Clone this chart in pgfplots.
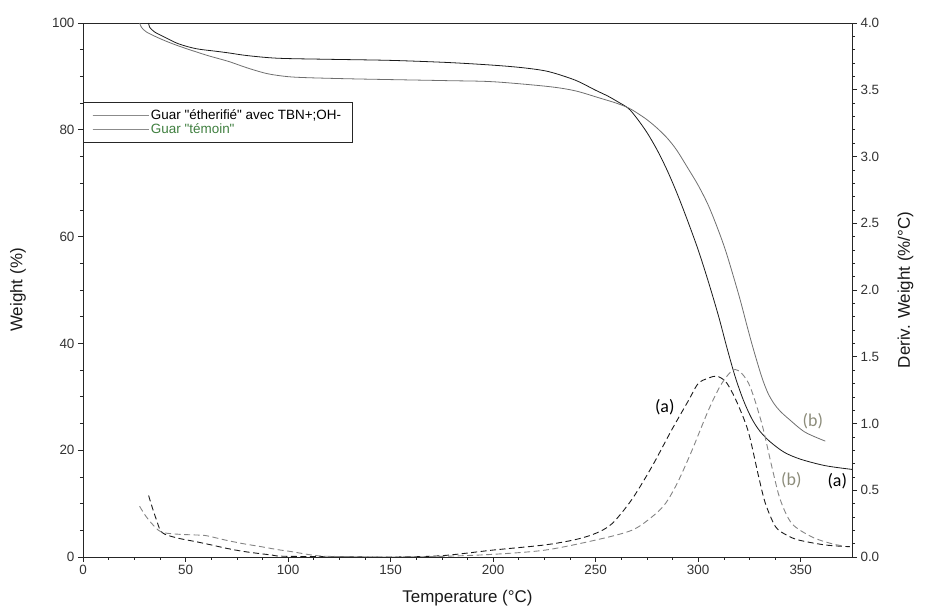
\documentclass[border=0pt]{standalone}
\usepackage{fontspec}
\setmainfont{Liberation Sans}[Ligatures=TeXOff]
\newfontfamily\carlito{Carlito}
\usepackage{pgfplots}
\pgfplotsset{compat=1.18}
\definecolor{cA}{HTML}{1A1A1A}
\definecolor{cB}{HTML}{6E6E6E}
\definecolor{cBl}{HTML}{8C8C7A}
\definecolor{cG}{HTML}{3F7F3F}
\pgfplotsset{
  common/.style={
    at={(0,0)}, anchor=south west, scale only axis, width=769bp, height=534bp,
    xmin=0, xmax=375,
    tick align=outside, major tick length=5bp, minor tick length=3bp,
    axis line style={line width=0.8pt, black!85},
    every tick/.style={black!85, line width=0.6pt},
    /pgf/number format/assume math mode=true,
    tick label style={font=\fontsize{13.5}{15}\selectfont, text=black!80},
    label style={font=\fontsize{17}{19}\selectfont, text=black!90},
  }
}
\begin{document}
\begin{tikzpicture}
\path[use as bounding box] (-83bp,-51bp) rectangle (855bp,557bp);
\begin{axis}[common,
  ymin=0, ymax=100,
  xtick={0,50,...,350}, ytick={0,20,...,100},
  minor x tick num=3, minor y tick num=3,
  xtick pos=left, ytick pos=left,
  xlabel={Temperature (°C)}, ylabel={Weight (\%)},
  xlabel style={at={(axis description cs:0.5,-0.077)}, anchor=center},
  ylabel style={at={(axis description cs:-0.0845,0.5)}, anchor=center},
  legend style={at={(0,0.852)}, anchor=north west, draw=black!85, fill=white,
    font=\fontsize{13.5}{15}\selectfont, inner xsep=9bp, inner ysep=5bp, row sep=-1bp},
  legend cell align=left,
  legend image code/.code={\path (0bp,0bp) -- (56bp,0bp); \draw[#1] (0bp,0bp) -- (50bp,0bp);},
]
\addlegendimage{cB!80, line width=0.8pt}
\addlegendentry{Guar "étherifié" avec TBN+;OH-}
\addlegendimage{cB!80, line width=0.8pt}
\addlegendentry{\textcolor{cG}{Guar "témoin"}}
% (a) solid
\addplot[cA, line width=0.8pt, smooth, forget plot] coordinates {
(32,100) (32.5,99.2) (35,98.3) (40,97.3) (46.6,96.1) (55,95.2) (65,94.7) (71,94.4)
(80,93.9) (95,93.4) (120,93.2) (150,93.0) (178,92.6) (200,92.1) (215,91.6) (227,90.9)
(240,89.3) (250,87.4) (256,86.3) (261,85.2) (266,84.0) (270,82.2) (275,79.5) (280,76.2)
(285,72.3) (290,67.8) (295,62.8) (300,57.5) (305,51.5) (310,45.0) (314,39.2) (318,33.8)
(322,29.4) (326,26.0) (330,23.6) (335,21.6) (342,19.6) (350,18.3) (362,17.1) (375,16.4)};
% (b) solid
\addplot[cB, line width=0.8pt, smooth, forget plot] coordinates {
(27.6,100) (28.5,99.2) (31,98.3) (38,97) (46.6,95.7) (60,94) (71,92.8) (80,91.6)
(90,90.5) (100,89.95) (110,89.75) (130,89.55) (150,89.4) (178,89.2) (200,89.0) (227,88.1)
(240,87.3) (251.5,86.0) (260,85.0) (266,84.1) (270,83.2) (275,81.9) (280,80.3) (285,78.4)
(289.5,76.2) (295,72.8) (300,69.6) (305,65.8) (310,61.0) (314,56.6) (320,48.8) (324,43.0)
(327,38.8) (331,33.7) (334,30.7) (337,28.7) (340,27.3) (344,25.9) (352,23.4) (362,21.7)};
\node[font=\carlito\fontsize{18}{20}\selectfont, text=black] at (axis cs:283.7,28.0) {(a)};
\node[font=\carlito\fontsize{18}{20}\selectfont, text=black] at (axis cs:367.8,14.2) {(a)};
\node[font=\carlito\fontsize{18}{20}\selectfont, text=cBl] at (axis cs:355.9,25.4) {(b)};
\node[font=\carlito\fontsize{18}{20}\selectfont, text=cBl] at (axis cs:345.4,14.4) {(b)};
\node[font=\fontsize{10.5}{12}\selectfont, text=black!70] at (rel axis cs:0.999,-0.062) {Universal V4 5A TA Instruments};
\end{axis}
\begin{axis}[common,
  ymin=0, ymax=4,
  axis x line=none, axis y line*=right,
  ytick={0,0.5,...,4}, minor y tick num=4,
  yticklabel style={/pgf/number format/.cd, fixed, fixed zerofill, precision=1},
  ylabel={Deriv. Weight (\%/°C)},
  ylabel style={at={(axis description cs:1.0696,0.5)}, anchor=center},
]
% (a) dashed
\addplot[cA, line width=0.9pt, dash pattern=on 6bp off 3.5bp, smooth] coordinates {
(32,0.46) (34,0.36) (36,0.27) (37.7,0.20) (40,0.17) (46.6,0.14) (55,0.115) (62.7,0.09)
(70,0.065) (79,0.04) (92,0.015) (100,0.005) (150,0.0) (175,0.01) (200,0.052) (225,0.09)
(240,0.13) (250,0.177) (258,0.25) (267.6,0.43) (277.4,0.676) (287,0.95) (295.4,1.176)
(300,1.30) (305,1.34) (309,1.355) (313,1.32) (316,1.25) (320,1.12) (324.6,0.93)
(329.5,0.60) (332.8,0.40) (337.7,0.227) (343,0.165) (349,0.127) (362,0.09) (374,0.077)};
% (b) dashed
\addplot[cB!85, line width=0.9pt, dash pattern=on 6bp off 3.5bp, smooth] coordinates {
(27.6,0.38) (30,0.32) (33,0.26) (36.8,0.20) (40,0.18) (47,0.17) (54.7,0.165) (60,0.16)
(69.4,0.127) (78,0.10) (87,0.077) (95,0.055) (101.8,0.04) (111.5,0.015) (120,0.005)
(150,0.0) (175,0.005) (200,0.02) (225.5,0.052) (250,0.127) (267.6,0.20) (277.4,0.30)
(284,0.40) (290,0.56) (297,0.80) (305,1.10) (311.5,1.30) (318,1.405) (324.6,1.30)
(331,1.0) (336,0.67) (340,0.43) (345.7,0.25) (355.5,0.15) (365,0.10) (370,0.085)};
\end{axis}
\end{tikzpicture}
\end{document}
